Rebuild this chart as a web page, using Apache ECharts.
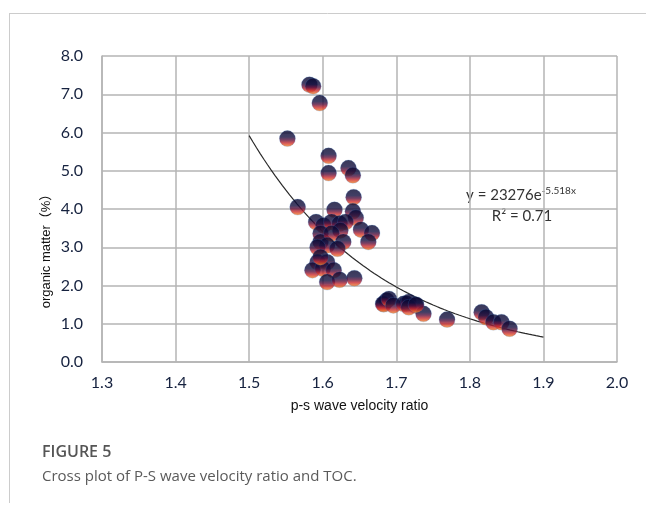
<!DOCTYPE html>
<html>
<head>
<meta charset="utf-8">
<script src="https://cdn.jsdelivr.net/npm/echarts@6/dist/echarts.min.js"></script>
<style>
  html, body { margin: 0; padding: 0; background: #fff; }
  #chart { width: 646px; height: 506px; }
</style>
</head>
<body>
<div id="chart"></div>
<script>
// P-S wave velocity ratio (Vp/Vs) of each sample
const ratio = [
  1.582, 1.587, 1.596, 1.552, 1.608, 1.608, 1.635, 1.641, 1.642,
  1.566, 1.616, 1.641, 1.645, 1.591, 1.601, 1.612, 1.623, 1.631,
  1.624, 1.652, 1.667, 1.662, 1.597, 1.597, 1.612, 1.606, 1.628,
  1.620, 1.593, 1.593, 1.606, 1.586, 1.600, 1.615, 1.606, 1.623,
  1.643, 1.597, 1.687, 1.683, 1.714, 1.726, 1.737,
  1.682, 1.690, 1.696, 1.710, 1.717, 1.717, 1.727, 1.769,
  1.816, 1.822, 1.832, 1.843, 1.854
];
// organic matter content (%) of each sample
const toc = [
  7.25, 7.21, 6.77, 5.84, 5.39, 4.94, 5.07, 4.88, 4.31,
  4.05, 3.98, 3.94, 3.77, 3.66, 3.57, 3.66, 3.62, 3.66,
  3.44, 3.46, 3.37, 3.14, 3.36, 3.14, 3.36, 3.05, 3.14,
  2.96, 3.00, 2.61, 2.61, 2.40, 2.44, 2.40, 2.09, 2.15,
  2.19, 2.74, 1.61, 1.51, 1.52, 1.48, 1.26,
  1.52, 1.65, 1.48, 1.52, 1.57, 1.43, 1.50, 1.11,
  1.30, 1.17, 1.04, 1.04, 0.87
];
// exponential trend line y = a * e^(b x), fitted over x in [1.5, 1.9]
const fitA = 23276;
const fitB = -5.518;
const fitR2 = 0.71;
const fitRange = [1.5, 1.9];
const xTicks = ['1.3', '1.4', '1.5', '1.6', '1.7', '1.8', '1.9', '2.0'];
const yTicks = ['0.0', '1.0', '2.0', '3.0', '4.0', '5.0', '6.0', '7.0', '8.0'];

const points = ratio.map((r, i) => [r, toc[i]]);
const trend = [];
for (let k = 0; k <= 80; k++) {
  const x = fitRange[0] + (fitRange[1] - fitRange[0]) * k / 80;
  trend.push([x, fitA * Math.exp(fitB * x)]);
}

const gridColor = '#b4b4b4';
const tickColor = '#16223f';

const chart = echarts.init(document.getElementById('chart'), null, { renderer: 'canvas' });
chart.setOption({
  backgroundColor: '#fff',
  animation: false,
  grid: { left: 102, right: 29, top: 56, bottom: 144 },
  xAxis: {
    type: 'value', min: 1.3, max: 2.0, interval: 0.1,
    axisLine: { show: true, lineStyle: { color: gridColor, width: 1.5 } },
    axisTick: { show: false },
    splitLine: { show: true, lineStyle: { color: gridColor, width: 1.5 } },
    axisLabel: {
      color: tickColor, fontFamily: 'Lato', fontSize: 16, margin: 13,
      formatter: (v) => xTicks[Math.round((v - 1.3) * 10)]
    },
    name: 'p-s wave velocity ratio', nameLocation: 'middle', nameGap: 37,
    nameTextStyle: { color: '#111', fontFamily: 'Liberation Sans', fontSize: 14 }
  },
  yAxis: {
    type: 'value', min: 0, max: 8, interval: 1,
    axisLine: { show: true, lineStyle: { color: gridColor, width: 1.5 } },
    axisTick: { show: false },
    splitLine: { show: true, lineStyle: { color: gridColor, width: 1.5 } },
    axisLabel: {
      color: tickColor, fontFamily: 'Lato', fontSize: 16, margin: 19,
      formatter: (v) => yTicks[Math.round(v)]
    }
  },
  series: [
    {
      type: 'line', data: trend, showSymbol: false, smooth: false, z: 3,
      lineStyle: { color: '#2a2a2a', width: 1.2 }
    },
    {
      type: 'scatter', data: points, symbol: 'circle', symbolSize: 16, z: 4,
      itemStyle: {
        color: new echarts.graphic.LinearGradient(0, 0, 0, 1, [
          { offset: 0, color: '#05052e' },
          { offset: 0.4, color: '#120e3e' },
          { offset: 0.58, color: '#5a103c' },
          { offset: 0.76, color: '#c82a2e' },
          { offset: 1, color: '#f88c2c' }
        ]),
        borderColor: 'rgba(60,130,210,0.5)', borderWidth: 0.5
      }
    }
  ],
  graphic: [
    { type: 'line', shape: { x1: 9, y1: 13.5, x2: 646, y2: 13.5 }, style: { stroke: '#cccccc', lineWidth: 1 } },
    { type: 'line', shape: { x1: 9.5, y1: 13, x2: 9.5, y2: 503 }, style: { stroke: '#cccccc', lineWidth: 1 } },
    {
      type: 'text', x: 521, y: 195,
      style: {
        text: '{b|y = 23276e}{s|-5.518x}', align: 'center', verticalAlign: 'middle',
        rich: {
          b: { fontFamily: 'Lato', fontSize: 15, fill: '#333' },
          s: { fontFamily: 'Lato', fontSize: 10, fill: '#333', verticalAlign: 'top', padding: [0, 0, 9, 0] }
        }
      }
    },
    {
      type: 'text', x: 522, y: 216,
      style: {
        text: 'R² = ' + fitR2.toFixed(2), align: 'center', verticalAlign: 'middle',
        fontFamily: 'Lato', fontSize: 15, fill: '#333'
      }
    },
    {
      type: 'text', x: 46, y: 248, rotation: Math.PI / 2,
      style: {
        text: 'organic matter（%）', align: 'center', verticalAlign: 'middle',
        fontFamily: 'Liberation Sans, Noto Sans CJK SC', fontSize: 13, fill: '#111'
      }
    },
    {
      type: 'text', x: 42, y: 452,
      style: {
        text: 'FIGURE 5', verticalAlign: 'middle',
        fontFamily: 'Open Sans', fontWeight: 600, fontSize: 16, fill: '#555'
      }
    },
    {
      type: 'text', x: 42, y: 477,
      style: {
        text: 'Cross plot of P-S wave velocity ratio and TOC.', verticalAlign: 'middle',
        fontFamily: 'Open Sans', fontSize: 15, fill: '#5a5a5a'
      }
    }
  ]
});
</script>
</body>
</html>
